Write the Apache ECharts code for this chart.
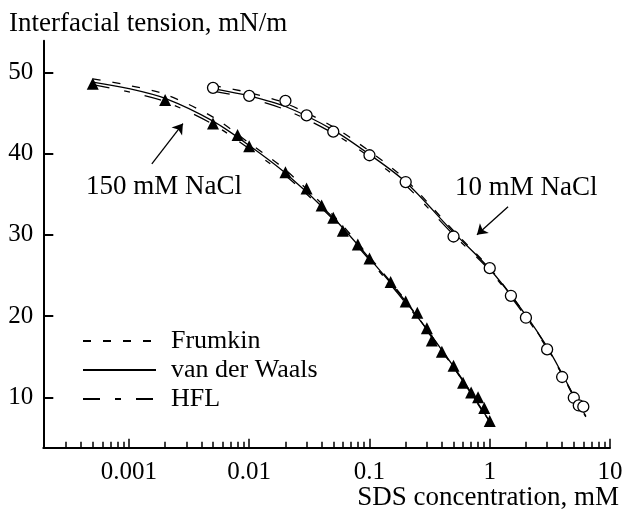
<!DOCTYPE html>
<html><head><meta charset="utf-8">
<script src="https://cdn.jsdelivr.net/npm/echarts@6/dist/echarts.min.js"></script>
<style>html,body{margin:0;padding:0;background:#fff}#c{width:624px;height:513px}</style>
</head><body><div id="c"></div>
<script>
// ---- tick values ----
const xMajorTicks = [0.001, 0.01, 0.1, 1, 10];
const xMinorTicks = [0.0003, 0.0004, 0.0005, 0.0006, 0.0007, 0.0008, 0.0009,
  0.002, 0.003, 0.004, 0.005, 0.006, 0.007, 0.008, 0.009,
  0.02, 0.03, 0.04, 0.05, 0.06, 0.07, 0.08, 0.09,
  0.2, 0.3, 0.4, 0.5, 0.6, 0.7, 0.8, 0.9,
  2, 3, 4, 5, 6, 7, 8, 9];
const yTicks = [10, 20, 30, 40, 50];

// ---- experimental points ----
const nacl150X = [0.0005, 0.002, 0.005, 0.008, 0.01, 0.02, 0.03, 0.04, 0.05, 0.06, 0.08, 0.1, 0.15, 0.2, 0.25, 0.3, 0.33, 0.4, 0.5, 0.6, 0.7, 0.8, 0.9, 1.0];
const nacl150Y = [48.6, 46.6, 43.7, 42.3, 40.9, 37.7, 35.7, 33.6, 32.1, 30.5, 28.8, 27.1, 24.2, 21.8, 20.4, 18.5, 17.0, 15.6, 13.9, 11.8, 10.6, 10.0, 8.7, 7.1];
const nacl10X = [0.005, 0.01, 0.02, 0.03, 0.05, 0.1, 0.2, 0.5, 1, 1.5, 2, 3, 4, 5, 5.5, 6];
const nacl10Y = [48.1, 47.1, 46.5, 44.7, 42.7, 39.8, 36.5, 29.8, 25.9, 22.5, 19.8, 15.9, 12.5, 9.95, 9.0, 8.85];

// ---- model curves ----
const model150X = [0.0005, 0.001, 0.002, 0.005, 0.01, 0.02, 0.05, 0.1, 0.2, 0.5, 1.0];
const frumkin150Y = [49.2, 48.4, 47.3, 44.5, 41.3, 38.0, 32.4, 27.3, 21.9, 13.7, 6.9];
const vdw150Y = [48.8, 48.0, 46.8, 44.0, 41.0, 37.6, 32.1, 27.1, 21.8, 13.8, 7.0];
const hfl150Y = [48.5, 47.6, 46.4, 43.6, 40.6, 37.3, 31.9, 26.9, 21.6, 13.7, 7.0];
const model10X = [0.005, 0.01, 0.02, 0.05, 0.1, 0.2, 0.5, 1, 2, 3, 4, 5, 6.3];
const frumkin10Y = [48.4, 47.5, 46.2, 43.3, 40.3, 36.8, 30.5, 25.9, 20.1, 16.1, 12.8, 10.1, 7.6];
const vdw10Y = [48.0, 47.1, 45.8, 42.9, 39.9, 36.5, 30.3, 25.8, 20.1, 16.2, 12.9, 10.2, 7.7];
const hfl10Y = [47.7, 46.8, 45.4, 42.5, 39.6, 36.1, 30.0, 25.6, 19.9, 16.0, 12.8, 10.1, 7.6];

// ---- annotation arrows (data coords: tail, head) ----
const arrow150 = [[0.00155, 38.75], [0.00281, 43.7]];
const arrow10 = [[1.42, 33.45], [0.783, 30.0]];

const zip = (xs, ys) => xs.map((x, i) => [x, ys[i]]);
const FONT = "'Liberation Serif', 'Times New Roman', Times, serif";
const DASH_FRUMKIN = [8, 12];
const DASH_HFL = [17, 15, 6, 15];

function curve(name, xs, ys, dash) {
  return {
    name: name, type: 'line', data: zip(xs, ys), smooth: 0.3,
    symbol: 'none', showSymbol: false, z: 2,
    lineStyle: { color: '#000', width: 1.3, type: dash },
    itemStyle: { color: '#000' }
  };
}
function txt(text, x, y, align) {
  return { type: 'text', x: x, y: y, z: 10,
    style: { text: text, font: "27px " + FONT, fill: '#000', align: align, verticalAlign: 'middle' } };
}

const chart = echarts.init(document.getElementById('c'), null, { renderer: 'canvas' });
chart.setOption({
  animation: false,
  backgroundColor: '#fff',
  grid: { left: 43.3, right: 14, top: 40.7, bottom: 65.3, containLabel: false, outerBoundsMode: 'none' },
  legend: {
    data: ['Frumkin', 'van der Waals', 'HFL'],
    orient: 'vertical', left: 82, top: 328, padding: 0,
    itemWidth: 73, itemHeight: 14, itemGap: 3, selectedMode: false,
    lineStyle: { width: 2 },
    itemStyle: { opacity: 0, borderWidth: 0 },
    textStyle: { fontFamily: FONT, fontSize: 26, color: '#000', padding: [0, 0, 0, 10] }
  },
  xAxis: [{
    type: 'log', logBase: 10, min: 0.000194, max: 10, position: 'bottom',
    axisLine: { show: true, lineStyle: { color: '#000', width: 2 } },
    axisTick: { show: true, inside: true, length: 9, customValues: xMajorTicks, lineStyle: { color: '#000', width: 1.5 } },
    minorTick: { show: false },
    axisLabel: { customValues: xMajorTicks, margin: 12, fontFamily: FONT, fontSize: 25, color: '#000',
      formatter: v => String(parseFloat(Number(v).toPrecision(6))) },
    splitLine: { show: false }
  }, {
    type: 'log', logBase: 10, min: 0.000194, max: 10, position: 'bottom',
    axisLine: { show: false },
    axisTick: { show: true, inside: true, length: 6, customValues: xMinorTicks, lineStyle: { color: '#000', width: 1.5 } },
    axisLabel: { show: false },
    splitLine: { show: false }
  }],
  yAxis: {
    type: 'value', min: 3.8, max: 53.9,
    axisLine: { show: true, lineStyle: { color: '#000', width: 2 } },
    axisTick: { show: true, inside: true, length: 10, customValues: yTicks, lineStyle: { color: '#000', width: 2 } },
    axisLabel: { customValues: yTicks, margin: 10, fontFamily: FONT, fontSize: 25, color: '#000' },
    splitLine: { show: false }
  },
  series: [
    curve('Frumkin', model150X, frumkin150Y, DASH_FRUMKIN),
    curve('van der Waals', model150X, vdw150Y, 'solid'),
    curve('HFL', model150X, hfl150Y, DASH_HFL),
    curve('Frumkin', model10X, frumkin10Y, DASH_FRUMKIN),
    curve('van der Waals', model10X, vdw10Y, 'solid'),
    curve('HFL', model10X, hfl10Y, DASH_HFL),
    {
      name: '150 mM NaCl', type: 'scatter', data: zip(nacl150X, nacl150Y), z: 5,
      symbol: 'triangle', symbolSize: 12, itemStyle: { color: '#000', opacity: 1 },
      markLine: {
        silent: true, symbol: ['none', 'arrow'], symbolSize: 10,
        lineStyle: { color: '#000', width: 1.3, type: 'solid', opacity: 1 }, label: { show: false },
        itemStyle: { color: '#000' },
        data: [
          [{ coord: arrow150[0] }, { coord: arrow150[1] }],
          [{ coord: arrow10[0] }, { coord: arrow10[1] }]
        ]
      }
    },
    {
      name: '10 mM NaCl', type: 'scatter', data: zip(nacl10X, nacl10Y), z: 5,
      symbol: 'circle', symbolSize: 11,
      itemStyle: { color: '#fff', borderColor: '#000', borderWidth: 1.3, opacity: 1 }
    }
  ],
  graphic: [
    txt('Interfacial tension, mN/m', 9, 24, 'left'),
    txt('SDS concentration, mM', 619, 498, 'right'),
    txt('150 mM NaCl', 86, 187, 'left'),
    txt('10 mM NaCl', 455, 188, 'left')
  ]
});
</script>
</body></html>
